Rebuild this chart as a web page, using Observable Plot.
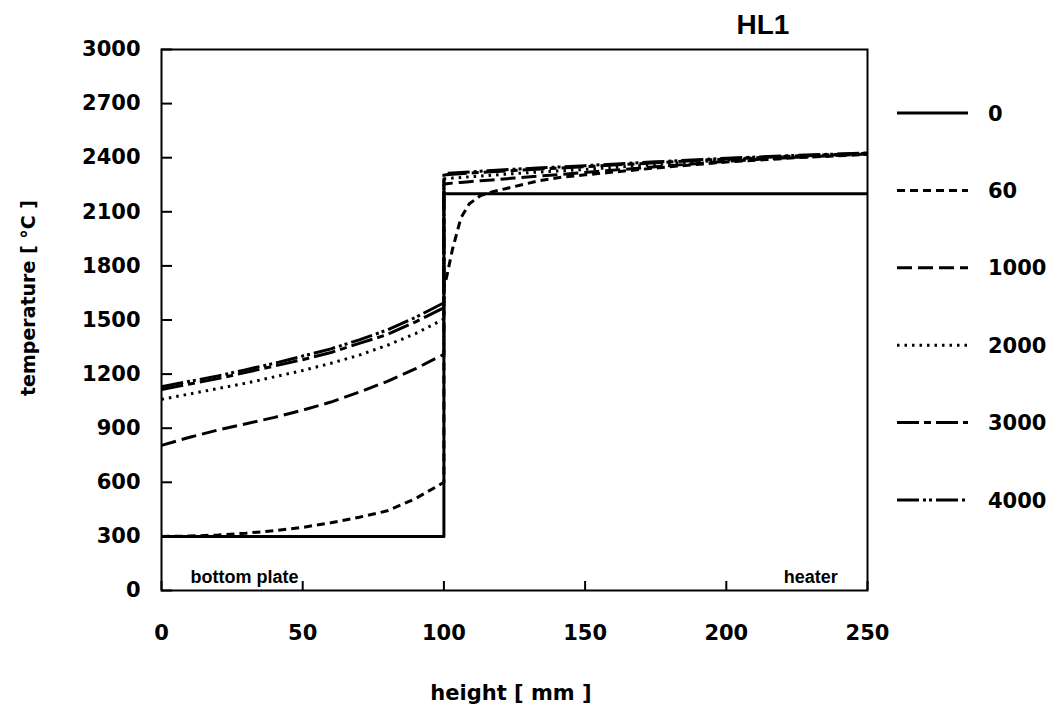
<!DOCTYPE html>
<html><head><meta charset="utf-8">
<script src="https://cdn.jsdelivr.net/npm/d3@7"></script>
<script src="https://cdn.jsdelivr.net/npm/@observablehq/plot@0.6"></script>
<style>
body{margin:0;background:#fff;}
#wrap{position:relative;width:1059px;height:713px;}
#overlay{position:absolute;left:0;top:0;pointer-events:none;}
</style></head><body><div id="wrap"></div>
<script>
// ---- data ----
const seriesNames = ["0", "60", "1000", "2000", "3000", "4000"];
const dashes = ["none", "8,5", "15,6", "2.5,5", "22,5,7,5", "22,4,3,3,3,4"];

// bottom plate region (height in mm)
const plateHeights = [0, 10, 20, 30, 40, 50, 60, 70, 80, 90, 100];
const plate0    = [300, 300, 300, 300, 300, 300, 300, 300, 300, 300, 300];
const plate60   = [300, 302, 308, 318, 332, 350, 376, 406, 442, 510, 600];
const plate1000 = [805, 850, 890, 925, 960, 1000, 1045, 1100, 1160, 1230, 1310];
const plate2000 = [1060, 1090, 1120, 1150, 1185, 1220, 1260, 1305, 1360, 1425, 1505];
const plate3000 = [1115, 1145, 1175, 1210, 1245, 1280, 1320, 1370, 1420, 1490, 1568];
const plate4000 = [1130, 1160, 1190, 1225, 1260, 1300, 1340, 1390, 1445, 1515, 1595];

// heater region
const heaterHeights = [100, 101, 103, 106, 109, 113, 117, 125, 133, 141, 150, 175, 200, 225, 250];
const heater0    = [2200, 2200, 2200, 2200, 2200, 2200, 2200, 2200, 2200, 2200, 2200, 2200, 2200, 2200, 2200];
const heater60   = [1680, 1740, 1890, 2065, 2145, 2190, 2210, 2240, 2270, 2290, 2305, 2343, 2376, 2400, 2418];
const heater1000 = [2255, 2256, 2259, 2263, 2267, 2272, 2277, 2287, 2297, 2307, 2318, 2350, 2380, 2403, 2420];
const heater2000 = [2283, 2284, 2287, 2290, 2294, 2298, 2303, 2312, 2320, 2327, 2335, 2362, 2388, 2408, 2422];
const heater3000 = [2305, 2306, 2308, 2311, 2314, 2318, 2322, 2329, 2336, 2343, 2350, 2372, 2393, 2410, 2424];
const heater4000 = [2312, 2313, 2315, 2318, 2321, 2325, 2329, 2336, 2343, 2349, 2356, 2377, 2397, 2413, 2426];

const xTicks = [0, 50, 100, 150, 200, 250];
const yTicks = [0, 300, 600, 900, 1200, 1500, 1800, 2100, 2400, 2700, 3000];
const noteLeft = [{h: 10.3, t: 72, text: "bottom plate"}];
const noteRight = [{h: 239.5, t: 72, text: "heater"}];

const plates = [plate0, plate60, plate1000, plate2000, plate3000, plate4000];
const heaters = [heater0, heater60, heater1000, heater2000, heater3000, heater4000];

const rows = seriesNames.map((s, i) => [
  ...plateHeights.map((h, j) => ({s, h, t: plates[i][j]})),
  ...heaterHeights.map((h, j) => ({s, h, t: heaters[i][j]}))
]);

const noteFont = {fontFamily: "'Liberation Sans', Arial, sans-serif", fontSize: 18, fontWeight: "bold"};

const chart = Plot.plot({
  width: 1059, height: 713,
  marginLeft: 161, marginRight: 192, marginTop: 49, marginBottom: 123,
  x: {domain: [0, 250]},
  y: {domain: [0, 3000]},
  style: {fontFamily: "'DejaVu Sans', sans-serif", fontWeight: "bold", fontSize: "21px", background: "white", color: "black"},
  marks: [
    Plot.frame({strokeWidth: 2}),
    Plot.axisY(yTicks, {tickSize: -11, tickPadding: 32, strokeWidth: 2, tickFormat: d => String(d), label: null}),
    Plot.axisX(xTicks, {tickSize: -9, tickPadding: 44, strokeWidth: 2, tickFormat: d => String(d), label: null}),
    ...rows.map((r, i) => Plot.line(r, {x: "h", y: "t", stroke: "black", strokeWidth: 3, strokeLinecap: "butt", strokeDasharray: dashes[i] === "none" ? null : dashes[i]})),
    Plot.text(noteLeft, {x: "h", y: "t", text: "text", textAnchor: "start", ...noteFont}),
    Plot.text(noteRight, {x: "h", y: "t", text: "text", textAnchor: "end", ...noteFont})
  ]
});

const wrap = document.getElementById("wrap");
wrap.appendChild(chart);

// overlay: title, axis titles and legend
const svg = d3.select(wrap).append("svg").attr("id", "overlay").attr("width", 1059).attr("height", 713);
const bold = sel => sel.attr("font-weight", "bold").attr("fill", "black");
svg.append("text").attr("x", 763).attr("y", 34).attr("text-anchor", "middle")
  .attr("font-family", "'Liberation Sans', Arial, sans-serif").attr("font-size", 28).call(bold).text("HL1");
svg.append("text").attr("x", 511).attr("y", 700).attr("text-anchor", "middle")
  .attr("font-family", "'DejaVu Sans', sans-serif").attr("font-size", 21).call(bold).text("height [ mm ]");
svg.append("text").attr("transform", "translate(35,298) rotate(-90)").attr("text-anchor", "middle")
  .attr("font-family", "'DejaVu Sans', sans-serif").attr("font-size", 19).call(bold).text("temperature [ °C ]");
const lg = svg.selectAll("g.item").data(seriesNames).join("g").attr("class", "item")
  .attr("transform", (d, i) => `translate(0,${113 + i * 77.4})`);
lg.append("line").attr("x1", 897).attr("x2", 968).attr("y1", 0).attr("y2", 0)
  .attr("stroke", "black").attr("stroke-width", 3)
  .attr("stroke-dasharray", (d, i) => dashes[i] === "none" ? null : dashes[i]);
lg.append("text").attr("x", 988).attr("y", 0).attr("dy", "0.36em")
  .attr("font-family", "'DejaVu Sans', sans-serif").attr("font-size", 21).call(bold).text(d => d);
</script></body></html>
